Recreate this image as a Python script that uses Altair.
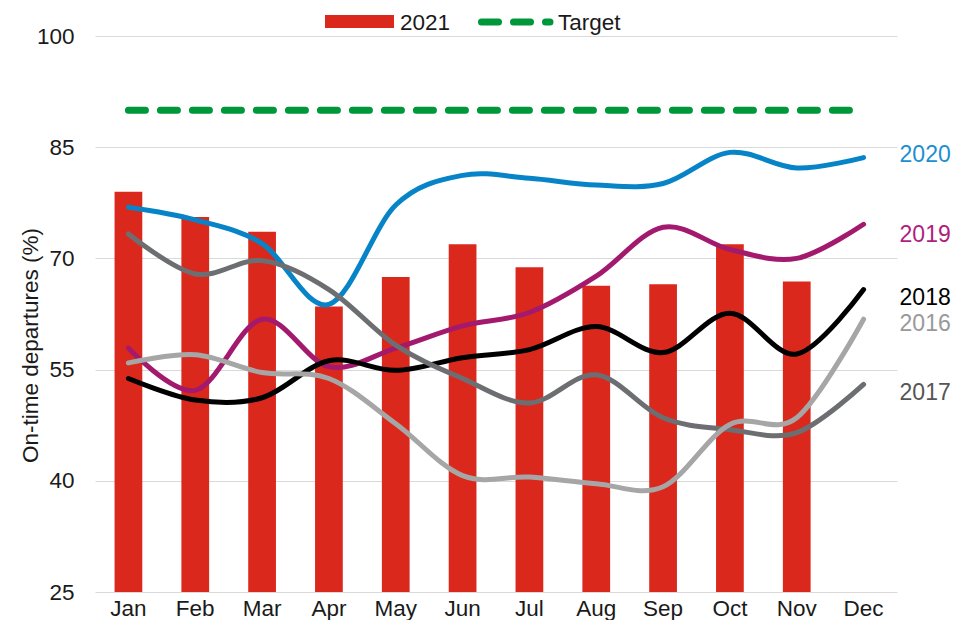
import altair as alt
import pandas as pd

months = ["Jan", "Feb", "Mar", "Apr", "May", "Jun", "Jul", "Aug", "Sep", "Oct", "Nov", "Dec"]
y2021 = [79.0, 75.6, 73.6, 63.5, 67.5, 71.9, 68.8, 66.3, 66.5, 71.9, 66.9]
y2020 = [76.9, 75.2, 72.0, 63.8, 77.2, 81.2, 80.8, 79.9, 80.1, 84.3, 82.2, 83.6]
y2019 = [57.9, 52.2, 61.8, 55.4, 57.9, 60.9, 62.7, 67.6, 74.2, 71.2, 70.0, 74.6]
y2018 = [53.8, 50.9, 51.2, 56.2, 54.9, 56.6, 57.7, 60.8, 57.3, 62.6, 57.1, 65.8]
y2017 = [73.3, 67.9, 69.7, 65.8, 58.3, 53.8, 50.5, 54.3, 48.5, 46.9, 46.5, 53.0]
y2016 = [55.9, 57.0, 54.6, 53.8, 47.7, 40.7, 40.5, 39.6, 39.2, 47.6, 48.5, 61.8]
target = [90] * 12

series_names = ["2020", "2019", "2018", "2017", "2016"]
series_values = [y2020, y2019, y2018, y2017, y2016]
series_colors = ["#0784C7", "#A3196D", "#000000", "#6D6E71", "#A6A6A6"]
label_colors = ["#1B8FD0", "#B01E7E", "#000000", "#555555", "#999999"]
label_y = [83.9, 73.1, 64.7, 51.9, 61.2]
label_names = ["2020", "2019", "2018", "2017", "2016"]

FONT = "Liberation Sans"
TXT = "#1a1a1a"
FS = 22.5

bar_df = pd.DataFrame({"month": months[:len(y2021)], "value": y2021})
rows = []
for name, vals in zip(series_names, series_values):
    for i, (m, v) in enumerate(zip(months, vals)):
        rows.append({"series": name, "month": m, "value": v, "idx": i})
line_df = pd.DataFrame(rows)
target_df = pd.DataFrame({"month": months, "value": target, "idx": list(range(12))})
lab_df = pd.DataFrame({"month": ["Dec"] * 5, "value": label_y, "label": label_names,
                       "color": label_colors})

xscale = alt.Scale(domain=months, paddingInner=0.585, paddingOuter=0.2926)
yscale = alt.Scale(domain=[25, 100], nice=False, zero=False)

xenc = alt.X("month:N", sort=months, scale=xscale,
             axis=alt.Axis(title=None, labelAngle=0, ticks=False, domain=False, grid=False,
                           labelFontSize=FS, labelFont=FONT, labelColor=TXT,
                           labelBaseline="alphabetic", labelPadding=23))
yenc = alt.Y("value:Q", scale=yscale,
             axis=alt.Axis(title="On-time departures (%)", values=[25, 40, 55, 70, 85, 100],
                           ticks=False, domain=False, grid=True, gridColor="#D9D9D9", gridWidth=1,
                           labelFontSize=FS, labelFont=FONT, labelColor=TXT, labelPadding=21,
                           titleFontSize=FS, titleFont=FONT, titleFontWeight="normal",
                           titleColor=TXT, titleAngle=270, titleBaseline="alphabetic",
                           titleAlign="center", titleX=-58, titleY=309))

bars = alt.Chart(bar_df).mark_bar(color="#DA291C").encode(x=xenc, y=yenc, y2=alt.datum(25))

tgt = alt.Chart(target_df).mark_line(color="#00973A", strokeWidth=7, strokeDash=[17, 15],
                                     strokeCap="round").encode(
    x=alt.X("month:N", sort=months, scale=xscale),
    y=alt.Y("value:Q", scale=yscale),
    order="idx:Q")

lines = alt.Chart(line_df).mark_line(interpolate="cardinal", strokeWidth=5, strokeCap="round").encode(
    x=alt.X("month:N", sort=months, scale=xscale),
    y=alt.Y("value:Q", scale=yscale),
    color=alt.Color("series:N", scale=alt.Scale(domain=series_names, range=series_colors), legend=None),
    detail="series:N",
    order="idx:Q")

labels = alt.Chart(lab_df).mark_text(align="left", baseline="middle", dx=36, fontSize=23, font=FONT).encode(
    x=alt.X("month:N", sort=months, scale=xscale),
    y=alt.Y("value:Q", scale=yscale),
    text="label:N",
    color=alt.Color("color:N", scale=None))

# legend
leg_rect = alt.Chart(pd.DataFrame({"k": ["2021"]})).mark_rect(color="#DA291C").encode(
    x=alt.value(230), x2=alt.value(299), y=alt.value(-21), y2=alt.value(-8))
leg_text1 = alt.Chart(pd.DataFrame({"k": ["2021"]})).mark_text(
    align="left", baseline="middle", fontSize=FS, font=FONT, color=TXT).encode(
    x=alt.value(305), y=alt.value(-13), text="k:N")
leg_rule = alt.Chart(pd.DataFrame({"k": ["Target"]})).mark_rule(
    color="#00973A", strokeWidth=7, strokeDash=[17, 15], strokeCap="round").encode(
    x=alt.value(386.5), x2=alt.value(455), y=alt.value(-14))
leg_text2 = alt.Chart(pd.DataFrame({"k": ["Target"]})).mark_text(
    align="left", baseline="middle", fontSize=FS, font=FONT, color=TXT).encode(
    x=alt.value(463), y=alt.value(-13), text="k:N")

chart = alt.layer(bars, lines, tgt, labels, leg_rect, leg_text1, leg_rule, leg_text2).properties(
    width=802, height=556,
    autosize=alt.AutoSizeParams(type="none"),
    padding={"left": 87, "top": 28, "right": 59, "bottom": 28},
).configure(font=FONT).configure_view(strokeWidth=0, stroke="transparent")

chart.save("out.html", embed_options={"renderer": "svg", "actions": False})
